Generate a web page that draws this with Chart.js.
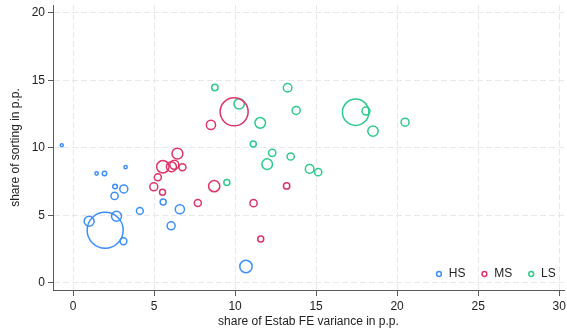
<!DOCTYPE html>
<html>
<head>
<meta charset="utf-8">
<script src="https://cdn.jsdelivr.net/npm/chart.js@4/dist/chart.umd.min.js"></script>
<style>
  body { margin: 0; background: #fff; }
  #wrap { width: 567px; height: 329px; position: relative; }
</style>
</head>
<body>
<div id="wrap"><canvas id="scatter"></canvas></div>
<script>
// groups shown in the legend
const groups = ['HS', 'MS', 'LS'];
const colors = ['#3d8ff7', '#dc3468', '#2ec98b'];

// HS: x = share of Estab FE variance, y = share of sorting, r = marker radius (px)
const hsX = [-0.70, 1.45, 1.94, 3.24, 2.59, 3.13, 2.56, 4.12, 0.99, 2.68, 1.98, 3.11, 5.56, 6.59, 6.05, 10.67];
const hsY = [10.21, 8.11, 8.11, 8.58, 7.15, 6.97, 6.45, 5.34, 4.57, 4.94, 3.91, 3.09, 6.00, 5.46, 4.23, 1.22];
const hsR = [1.5, 1.7, 2.2, 1.6, 2.3, 4, 3.6, 3.4, 5, 5, 18, 3.4, 3, 4.6, 4, 6.2];

// MS
const msX = [6.44, 5.54, 6.07, 6.25, 6.75, 5.23, 4.98, 5.52, 7.70, 8.71, 11.58, 11.14, 13.18, 9.94, 8.51];
const msY = [9.58, 8.61, 8.61, 8.76, 8.58, 7.84, 7.12, 6.72, 5.93, 7.17, 3.26, 5.91, 7.19, 12.68, 11.71];
const msR = [5.4, 6.2, 5, 4.5, 3.5, 3.5, 4, 3, 3.5, 5.6, 3, 3.6, 3.2, 14, 4.6];

// LS
const lsX = [8.75, 13.24, 10.25, 13.77, 11.55, 11.12, 12.29, 13.43, 11.98, 14.60, 15.13, 9.49, 17.44, 18.08, 18.51, 20.49];
const lsY = [14.48, 14.46, 13.27, 12.78, 11.86, 10.30, 9.64, 9.37, 8.80, 8.45, 8.21, 7.44, 12.65, 12.73, 11.25, 11.91];
const lsR = [3.2, 4.3, 5.2, 4, 5.3, 3, 3.6, 3.6, 5.3, 4.3, 3.6, 3, 13.2, 4, 5.2, 4];

const xTicks = [0, 5, 10, 15, 20, 25, 30];
const yTicks = [0, 5, 10, 15, 20];

function points(xs, ys, rs) {
    return xs.map((x, i) => ({ x: x, y: ys[i], r: rs[i] }));
}

const series = [points(hsX, hsY, hsR), points(msX, msY, msR), points(lsX, lsY, lsR)];

const FONT = '"Liberation Sans", Arial, sans-serif';
Chart.defaults.font.family = FONT;
Chart.defaults.font.size = 12;
Chart.defaults.color = '#222';

// legend drawn inside the plot, bottom right
const insideLegend = {
    id: 'insideLegend',
    afterDraw(chart) {
        const ctx = chart.ctx;
        const area = chart.chartArea;
        ctx.save();
        ctx.font = '12px ' + FONT;
        ctx.textBaseline = 'middle';
        let x = area.right - 8.3;
        const y = area.bottom - 16;
        for (let i = chart.data.datasets.length - 1; i >= 0; i--) {
            const ds = chart.data.datasets[i];
            const w = ctx.measureText(ds.label).width;
            ctx.fillStyle = '#222';
            ctx.fillText(ds.label, x - w, y);
            ctx.beginPath();
            ctx.arc(x - w - 9.8, y, 2.4, 0, Math.PI * 2);
            ctx.strokeStyle = ds.borderColor;
            ctx.lineWidth = 1.5;
            ctx.stroke();
            x = x - w - 9.8 - 19;
        }
        ctx.restore();
    }
};

const gridOpts = {
    color: '#e8e8e8',
    lineWidth: 1,
    tickColor: '#5a5a5a',
    tickLength: 5,
    tickWidth: 1
};

new Chart(document.getElementById('scatter'), {
    type: 'bubble',
    data: {
        datasets: groups.map((g, i) => ({
            label: g,
            data: series[i],
            borderColor: colors[i],
            backgroundColor: 'rgba(255,255,255,0)',
            borderWidth: 1.5,
            hoverRadius: 0,
            clip: false
        }))
    },
    options: {
        responsive: true,
        maintainAspectRatio: false,
        animation: false,
        layout: { autoPadding: false, padding: { top: 5, right: 3, left: 0, bottom: 0 } },
        plugins: {
            legend: { display: false },
            tooltip: { enabled: false }
        },
        scales: {
            x: {
                type: 'linear',
                min: -1.24,
                max: 30.3,
                afterFit: (scale) => {
                    scale.height = 39;
                    scale.paddingLeft = 0;
                    scale.paddingRight = 0;
                },
                afterBuildTicks: (scale) => { scale.ticks = xTicks.map(v => ({ value: v })); },
                ticks: { padding: 3, color: '#222', font: { size: 12 } },
                grid: Object.assign({}, gridOpts, { tickLength: 6 }),
                border: { display: true, color: '#5a5a5a', width: 1, dash: [6, 3] },
                title: {
                    display: true,
                    text: 'share of Estab FE variance in p.p.',
                    color: '#222',
                    font: { size: 12 },
                    padding: { top: 0, bottom: 0 }
                }
            },
            y: {
                type: 'linear',
                min: -0.52,
                max: 20.59,
                afterFit: (scale) => {
                    scale.width = 53;
                    scale.paddingTop = 0;
                    scale.paddingBottom = 0;
                },
                afterBuildTicks: (scale) => { scale.ticks = yTicks.map(v => ({ value: v })); },
                ticks: { padding: 3, color: '#222', font: { size: 12 } },
                grid: gridOpts,
                border: { display: true, color: '#5a5a5a', width: 1, dash: [6, 3] },
                title: {
                    display: true,
                    text: 'share of sorting in p.p.',
                    color: '#222',
                    font: { size: 12 },
                    padding: { top: 8, bottom: 0 }
                }
            }
        }
    },
    plugins: [insideLegend]
});
</script>
</body>
</html>
